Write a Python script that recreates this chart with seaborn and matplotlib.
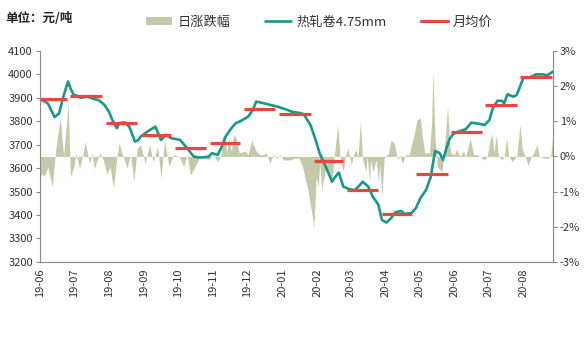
import matplotlib
matplotlib.use("Agg")
import matplotlib.pyplot as plt
import matplotlib.dates as mdates
from matplotlib.patches import Patch
from matplotlib.lines import Line2D
import numpy as np
import pandas as pd
import seaborn as sns

sns.set_style("white")
plt.rcParams['font.family'] = ['Noto Sans CJK SC', 'DejaVu Sans']
plt.rcParams['axes.unicode_minus'] = False

# ---------------- data ----------------
price_dates = [
    "2019-06-01", "2019-06-08", "2019-06-14", "2019-06-18", "2019-06-21", "2019-06-24", "2019-06-26",
    "2019-06-28", "2019-07-01", "2019-07-04", "2019-07-07", "2019-07-13", "2019-07-19", "2019-07-23",
    "2019-07-28", "2019-08-01", "2019-08-04", "2019-08-08", "2019-08-10", "2019-08-15", "2019-08-19",
    "2019-08-24", "2019-08-27", "2019-08-29", "2019-09-04", "2019-09-11", "2019-09-16", "2019-09-20",
    "2019-09-25", "2019-10-03", "2019-10-09", "2019-10-15", "2019-10-21", "2019-10-28", "2019-10-31",
    "2019-11-05", "2019-11-08", "2019-11-12", "2019-11-17", "2019-11-21", "2019-11-25", "2019-12-02",
    "2019-12-06", "2019-12-09", "2019-12-13", "2019-12-19", "2019-12-28", "2020-01-04", "2020-01-10",
    "2020-01-17", "2020-01-20", "2020-01-26", "2020-01-31", "2020-02-03", "2020-02-07", "2020-02-11",
    "2020-02-14", "2020-02-17", "2020-02-20", "2020-02-24", "2020-02-29", "2020-03-05", "2020-03-09",
    "2020-03-12", "2020-03-17", "2020-03-21", "2020-03-26", "2020-03-29", "2020-04-02", "2020-04-06",
    "2020-04-10", "2020-04-15", "2020-04-18", "2020-04-24", "2020-04-28", "2020-05-02", "2020-05-07",
    "2020-05-11", "2020-05-15", "2020-05-19", "2020-05-22", "2020-05-25", "2020-05-28", "2020-05-31",
    "2020-06-05", "2020-06-11", "2020-06-16", "2020-06-22", "2020-06-28", "2020-07-02", "2020-07-05",
    "2020-07-09", "2020-07-13", "2020-07-15", "2020-07-18", "2020-07-23", "2020-07-26", "2020-07-29",
    "2020-08-01", "2020-08-05", "2020-08-08", "2020-08-12", "2020-08-18", "2020-08-22", "2020-08-27",
]
price_values = [
    3895, 3877, 3818, 3834, 3891, 3941, 3970,
    3941, 3912, 3909, 3900, 3905, 3895, 3890,
    3870, 3841, 3806, 3770, 3792, 3795, 3777,
    3713, 3720, 3734, 3756, 3777, 3720, 3742,
    3728, 3720, 3685, 3649, 3645, 3649, 3664,
    3656, 3685, 3734, 3770, 3792, 3800, 3820,
    3848, 3884, 3880, 3873, 3862, 3851, 3840,
    3835, 3830, 3784, 3713, 3664, 3621, 3578,
    3542, 3564, 3581, 3521, 3511, 3506, 3525,
    3542, 3521, 3478, 3443, 3379, 3368, 3386,
    3412, 3417, 3405, 3408, 3429, 3472, 3507,
    3560, 3673, 3664, 3635, 3685, 3727, 3745,
    3757, 3766, 3794, 3790, 3784, 3806, 3856,
    3887, 3887, 3877, 3915, 3905, 3912, 3948,
    3986, 3986, 3990, 4000, 4000, 3996, 4012,
]

change_dates = [
    "2019-06-01", "2019-06-03", "2019-06-05", "2019-06-08", "2019-06-12", "2019-06-15", "2019-06-19",
    "2019-06-22", "2019-06-26", "2019-06-28", "2019-07-01", "2019-07-03", "2019-07-06", "2019-07-09",
    "2019-07-11", "2019-07-15", "2019-07-17", "2019-07-19", "2019-07-24", "2019-07-27", "2019-07-30",
    "2019-08-02", "2019-08-05", "2019-08-08", "2019-08-10", "2019-08-13", "2019-08-17", "2019-08-20",
    "2019-08-23", "2019-08-26", "2019-08-29", "2019-09-02", "2019-09-04", "2019-09-06", "2019-09-09",
    "2019-09-13", "2019-09-16", "2019-09-19", "2019-09-23", "2019-09-27", "2019-10-02", "2019-10-06",
    "2019-10-09", "2019-10-12", "2019-10-16", "2019-10-21", "2019-10-24", "2019-10-28", "2019-11-01",
    "2019-11-05", "2019-11-08", "2019-11-10", "2019-11-12", "2019-11-13", "2019-11-15", "2019-11-17",
    "2019-11-19", "2019-11-21", "2019-11-24", "2019-11-29", "2019-12-02", "2019-12-05", "2019-12-09",
    "2019-12-12", "2019-12-15", "2019-12-18", "2019-12-21", "2019-12-24", "2019-12-27", "2019-12-30",
    "2020-01-02", "2020-01-08", "2020-01-12", "2020-01-16", "2020-01-19", "2020-01-24", "2020-01-29",
    "2020-01-31", "2020-02-02", "2020-02-03", "2020-02-05", "2020-02-08", "2020-02-11", "2020-02-14",
    "2020-02-16", "2020-02-19", "2020-02-21", "2020-02-22", "2020-02-24", "2020-02-26", "2020-02-28",
    "2020-03-02", "2020-03-04", "2020-03-06", "2020-03-08", "2020-03-10", "2020-03-12", "2020-03-15",
    "2020-03-16", "2020-03-18", "2020-03-19", "2020-03-21", "2020-03-24", "2020-03-26", "2020-03-27",
    "2020-03-29", "2020-03-31", "2020-04-02", "2020-04-04", "2020-04-06", "2020-04-09", "2020-04-12",
    "2020-04-14", "2020-04-16", "2020-04-19", "2020-04-22", "2020-04-24", "2020-04-27", "2020-04-29",
    "2020-05-02", "2020-05-04", "2020-05-06", "2020-05-10", "2020-05-12", "2020-05-13", "2020-05-15",
    "2020-05-17", "2020-05-21", "2020-05-23", "2020-05-26", "2020-05-28", "2020-05-29", "2020-06-01",
    "2020-06-03", "2020-06-06", "2020-06-09", "2020-06-11", "2020-06-15", "2020-06-18", "2020-06-21",
    "2020-06-24", "2020-06-27", "2020-06-30", "2020-07-01", "2020-07-04", "2020-07-06", "2020-07-08",
    "2020-07-10", "2020-07-13", "2020-07-15", "2020-07-17", "2020-07-19", "2020-07-22", "2020-07-26",
    "2020-07-29", "2020-07-31", "2020-08-02", "2020-08-05", "2020-08-08", "2020-08-10", "2020-08-13",
    "2020-08-15", "2020-08-19", "2020-08-23", "2020-08-25", "2020-08-27",
]
change_values = [
    -0.57, -0.50, -0.57, -0.30, -0.86, 0.20, 1.10,
    0.00, 1.50, -0.57, -0.30, 0.10, -0.35, 0.05,
    0.42, -0.20, 0.10, -0.35, 0.10, -0.10, -0.50,
    -0.30, -0.90, 0.00, 0.37, 0.05, -0.33, 0.05,
    -0.70, 0.23, 0.33, -0.20, 0.10, 0.33, -0.15,
    0.28, -0.62, 0.47, -0.29, 0.05, 0.00, -0.29,
    0.05, -0.53, -0.29, 0.03, -0.05, -0.10, 0.05,
    -0.15, 0.05, 0.63, 0.40, 0.10, 0.53, 0.15,
    0.60, 0.55, 0.10, 0.15, 0.05, 0.47, 0.15,
    0.05, 0.05, 0.10, -0.20, 0.05, -0.05, 0.05,
    -0.10, -0.10, -0.05, -0.05, -0.30, -1.00, -2.00,
    -0.60, -0.86, -0.20, -0.95, -0.40, -0.38, -0.67,
    0.00, 0.90, 0.00, -0.20, -0.43, 0.05, 0.23,
    -0.24, 0.05, 0.18, 0.00, 1.04, -0.10, -0.43,
    0.00, -0.71, -0.10, -0.43, -0.10, -0.76, -0.20,
    -1.14, -0.05, 0.03, 0.10, 0.47, 0.37, -0.10,
    0.05, -0.20, 0.05, 0.05, 0.30, 0.70, 1.04,
    1.09, 0.50, 0.10, 0.10, 1.00, 2.41, 0.50,
    -0.30, -0.43, 0.10, 1.42, 0.30, 0.10, 0.05,
    0.20, 0.00, 0.15, 0.00, 0.52, 0.05, 0.05,
    0.00, -0.10, 0.00, 0.20, 0.66, 0.10, 0.61,
    0.00, -0.10, 0.00, 0.52, 0.00, -0.15, 0.00,
    0.90, 0.20, 0.05, -0.25, 0.00, 0.10, 0.33,
    0.00, -0.05, -0.05, 0.00, 0.61,
]

months = ["2019-06", "2019-07", "2019-08", "2019-09", "2019-10", "2019-11", "2019-12",
          "2020-01", "2020-02", "2020-03", "2020-04", "2020-05", "2020-06", "2020-07", "2020-08"]
month_avg = [3897, 3908, 3794, 3742, 3688, 3709, 3853,
             3833, 3632, 3507, 3403, 3575, 3756, 3870, 3990]

left_ticks = [3200, 3300, 3400, 3500, 3600, 3700, 3800, 3900, 4000, 4100]
right_ticks = [-3, -2, -1, 0, 1, 2, 3]

# ---------------- frames ----------------
price_df = pd.DataFrame({"date": pd.to_datetime(price_dates), "price": price_values})
chg_df = pd.DataFrame({"date": pd.to_datetime(change_dates), "chg": change_values})

x_start = pd.Timestamp("2019-06-01")
x_end = pd.Timestamp("2020-08-27")

# ---------------- figure ----------------
fig = plt.figure(figsize=(5.86, 3.41), dpi=100)
ax = fig.add_axes([0.068, 0.232, 0.8755, 0.6186])
ax2 = ax.twinx()
ax.set_zorder(ax2.get_zorder() + 1)
ax.patch.set_visible(False)

area_color = "#c6c9a9"
line_color = "#17998a"
avg_color = "#e8463f"
axis_color = "#8a8a8a"
text_color = "#333333"

# daily change area (right axis)
ax2.fill_between(chg_df["date"], 0, chg_df["chg"], color=area_color, linewidth=0)
ax2.set_ylim(-3, 3)
ax2.set_yticks(right_ticks)
ax2.set_yticklabels([f"{t}%" for t in right_ticks])

# price line (left axis)
sns.lineplot(data=price_df, x="date", y="price", ax=ax, color=line_color, linewidth=1.9)

# monthly averages
for m, v in zip(months, month_avg):
    ms = pd.Timestamp(m + "-01")
    seg_start = max(ms - pd.Timedelta(days=3), x_start)
    seg_end = min(ms + pd.offsets.MonthBegin(1) - pd.Timedelta(days=6), x_end)
    ax.hlines(v, seg_start, seg_end, color=avg_color, linewidth=2.3)

ax.set_ylim(3200, 4100)
ax.set_yticks(left_ticks)
ax.set_xlim(x_start, x_end)
ax.xaxis.set_major_locator(mdates.MonthLocator())
ax.xaxis.set_major_formatter(mdates.DateFormatter("%y-%m"))
ax.set_xlabel("")
ax.set_ylabel("")

for a in (ax, ax2):
    for side in ("top",):
        a.spines[side].set_visible(False)
    for side in ("left", "right", "bottom"):
        a.spines[side].set_color(axis_color)
        a.spines[side].set_linewidth(0.8)
    a.tick_params(colors=axis_color, labelcolor=text_color, labelsize=8, length=3, width=0.8, direction="out")

ax.tick_params(axis="x", rotation=90, pad=2)
ax.tick_params(axis="y", pad=2)
ax2.tick_params(axis="y", pad=2)
ax.spines["right"].set_visible(False)
ax2.spines["left"].set_visible(False)
ax2.spines["bottom"].set_visible(False)

# title
fig.text(0.01, 0.945, "单位：元/吨", fontsize=9, fontweight="bold", color="#222222", va="center")

# legend
handles = [
    Patch(facecolor=area_color, edgecolor="none"),
    Line2D([0], [0], color=line_color, linewidth=1.9),
    Line2D([0], [0], color=avg_color, linewidth=2.3),
]
labels = ["日涨跌幅", "热轧卷4.75mm", "月均价"]
fig.legend(handles, labels, loc="center", bbox_to_anchor=(0.545, 0.935), ncol=3, frameon=False,
           fontsize=9.5, handlelength=2.0, handleheight=0.6, handletextpad=0.4, columnspacing=2.6,
           labelcolor=text_color)

fig.savefig("out.png", dpi=100)
